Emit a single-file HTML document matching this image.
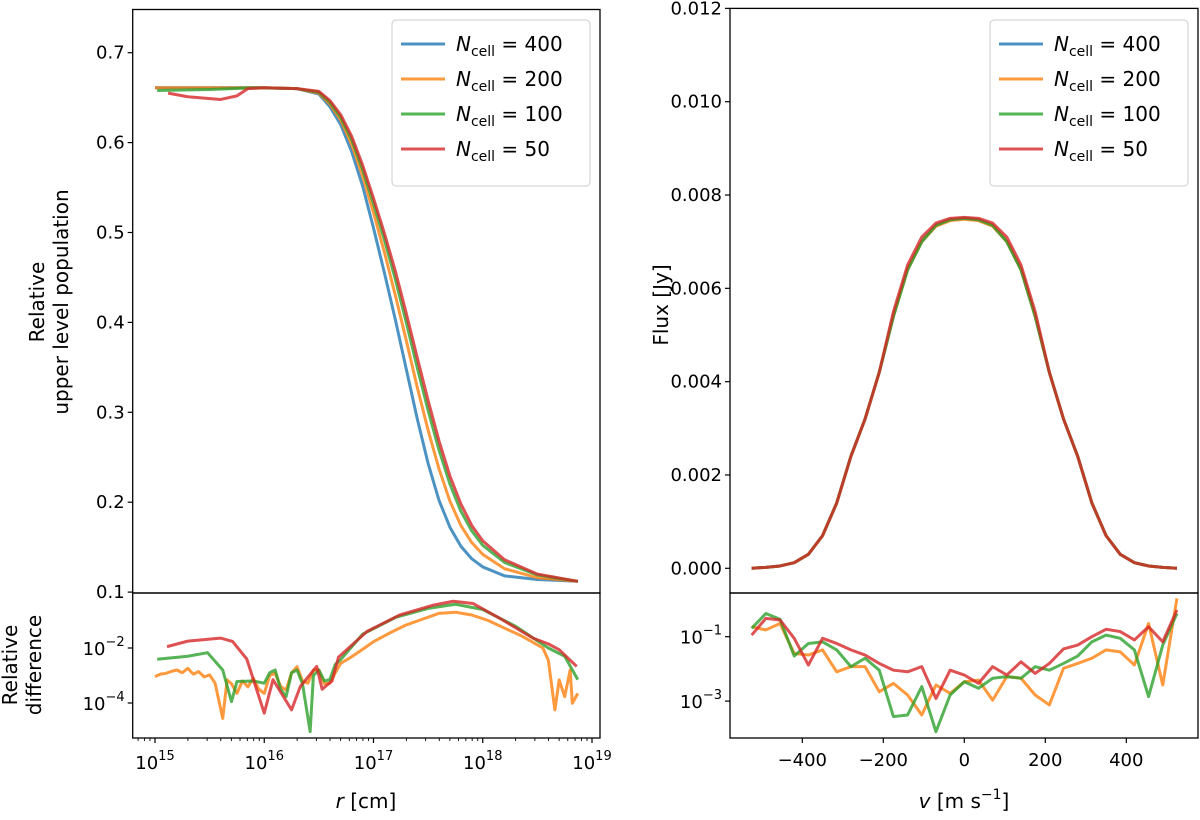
<!DOCTYPE html>
<html><head><meta charset="utf-8">
<style>
html,body{margin:0;padding:0;background:#fff;}
svg{display:block;font-family:"DejaVu Sans","Liberation Sans",sans-serif;}
</style></head>
<body>
<svg id="fig" width="1200" height="820" viewBox="0 0 1200 820" xmlns="http://www.w3.org/2000/svg">
</svg>
<script>
// ---------- DATA ----------
const seriesNames = ["400","200","100","50"];
const colors = ["#1f77b4","#ff7f0e","#2ca02c","#d62728"];

const popLogR400 = [15.0,15.5,16.0,16.3,16.5,16.6,16.7,16.8,16.9,17.0,17.1,17.2,17.3,17.4,17.5,17.6,17.7,17.8,17.9,18.0,18.2,18.5,18.87];
const pop400 = [0.661,0.661,0.661,0.660,0.654,0.640,0.620,0.590,0.552,0.505,0.455,0.403,0.348,0.293,0.243,0.202,0.172,0.151,0.137,0.128,0.118,0.114,0.112];
const popLogR200 = [15.0,15.5,16.0,16.3,16.5,16.6,16.7,16.8,16.9,17.0,17.1,17.2,17.3,17.4,17.5,17.6,17.7,17.8,17.9,18.0,18.2,18.5,18.87];
const pop200 = [0.661,0.661,0.661,0.660,0.655,0.643,0.625,0.598,0.563,0.522,0.478,0.430,0.380,0.328,0.280,0.237,0.201,0.174,0.155,0.142,0.126,0.116,0.112];
const popLogR100 = [15.02,15.5,15.9,16.3,16.5,16.6,16.7,16.8,16.9,17.0,17.1,17.2,17.3,17.4,17.5,17.6,17.7,17.8,17.9,18.0,18.2,18.5,18.87];
const pop100 = [0.658,0.659,0.661,0.660,0.656,0.645,0.628,0.603,0.570,0.532,0.492,0.448,0.400,0.350,0.302,0.258,0.220,0.190,0.168,0.152,0.133,0.119,0.112];
const popLogR50 = [15.12,15.3,15.6,15.75,15.85,16.0,16.3,16.5,16.6,16.7,16.8,16.9,17.0,17.1,17.2,17.3,17.4,17.5,17.6,17.7,17.8,17.9,18.0,18.2,18.5,18.87];
const pop50 = [0.655,0.651,0.648,0.652,0.660,0.661,0.660,0.657,0.647,0.631,0.607,0.575,0.538,0.499,0.457,0.410,0.361,0.313,0.268,0.229,0.198,0.174,0.157,0.136,0.120,0.112];

const diffLogR200 = [15.0,15.05,15.1,15.15,15.2,15.25,15.3,15.35,15.4,15.45,15.5,15.55,15.62,15.66,15.7,15.75,15.8,15.85,15.9,15.95,16.0,16.05,16.1,16.15,16.2,16.25,16.3,16.35,16.4,16.45,16.5,16.55,16.6,16.65,16.7,16.8,16.9,17.0,17.15,17.3,17.45,17.6,17.75,17.9,18.05,18.2,18.35,18.45,18.55,18.6,18.66,18.7,18.75,18.8,18.82,18.87];
const diff200 = [-3.04,-2.95,-2.92,-2.85,-2.80,-2.90,-2.74,-2.95,-2.86,-3.05,-2.98,-3.28,-4.56,-3.16,-3.30,-3.65,-3.20,-3.41,-3.10,-3.50,-3.65,-3.00,-2.92,-3.40,-3.53,-2.90,-2.68,-3.20,-3.28,-2.80,-2.80,-3.30,-3.28,-2.90,-2.56,-2.32,-2.05,-1.77,-1.45,-1.16,-0.95,-0.74,-0.70,-0.80,-1.00,-1.28,-1.55,-1.77,-2.00,-2.44,-4.25,-3.16,-3.77,-2.80,-4.01,-3.65];
const diffLogR100 = [15.02,15.3,15.48,15.62,15.7,15.75,15.9,16.0,16.05,16.1,16.15,16.2,16.25,16.3,16.35,16.42,16.45,16.5,16.55,16.6,16.65,16.7,16.9,17.2,17.5,17.75,18.0,18.3,18.6,18.75,18.87];
const diff100 = [-2.41,-2.30,-2.17,-2.80,-3.95,-3.22,-3.20,-3.28,-2.90,-2.80,-3.50,-3.77,-2.90,-2.80,-3.30,-5.04,-3.00,-2.80,-3.20,-3.15,-2.60,-2.42,-1.50,-0.89,-0.56,-0.41,-0.60,-1.21,-2.00,-2.30,-3.15];
const diffLogR50 = [15.11,15.3,15.6,15.71,15.84,16.0,16.08,16.25,16.33,16.48,16.53,16.62,16.68,16.94,17.24,17.55,17.73,17.91,18.16,18.46,18.6,18.7,18.86];
const diff50 = [-1.95,-1.75,-1.64,-1.76,-2.40,-4.37,-3.15,-4.25,-3.40,-2.67,-3.50,-3.20,-2.33,-1.40,-0.80,-0.44,-0.30,-0.38,-0.93,-1.64,-1.85,-2.06,-2.67];

const velocity = [-525,-490,-455,-420,-385,-350,-315,-280,-245,-210,-175,-140,-105,-70,-35,0,35,70,105,140,175,210,245,280,315,350,385,420,455,490,525];
const flux400 = [0,0.00002,0.00005,0.00012,0.0003,0.0007,0.0014,0.0024,0.0032,0.0042,0.0054,0.0064,0.0070,0.00735,0.00747,0.0075,0.00747,0.00735,0.0070,0.0064,0.0054,0.0042,0.0032,0.0024,0.0014,0.0007,0.0003,0.00012,0.00005,0.00002,0];
const flux200 = [0,0.00002,0.00005,0.00012,0.0003,0.0007,0.0014,0.0024,0.0032,0.0042,0.0054,0.0064,0.0070,0.00733,0.00745,0.00748,0.00745,0.00733,0.0070,0.0064,0.0054,0.0042,0.0032,0.0024,0.0014,0.0007,0.0003,0.00012,0.00005,0.00002,0];
const flux100 = [0,0.00002,0.00005,0.00012,0.0003,0.0007,0.0014,0.0024,0.0032,0.0042,0.0054,0.0064,0.0070,0.00735,0.00747,0.0075,0.00747,0.00735,0.0070,0.0064,0.0054,0.0042,0.0032,0.0024,0.0014,0.0007,0.0003,0.00012,0.00005,0.00002,0];
const flux50 = [0,0.00002,0.00005,0.00012,0.0003,0.0007,0.0014,0.0024,0.0032,0.0042,0.0055,0.0065,0.0071,0.0074,0.0075,0.00752,0.0075,0.0074,0.0071,0.0065,0.0055,0.0042,0.0032,0.0024,0.0014,0.0007,0.0003,0.00012,0.00005,0.00002,0];
const vdiff200 = [-0.69,-0.79,-0.59,-1.52,-1.57,-1.41,-2.09,-1.93,-1.93,-2.71,-2.45,-2.81,-3.43,-2.50,-2.76,-2.40,-2.35,-2.97,-2.24,-2.29,-2.81,-3.12,-1.98,-1.83,-1.67,-1.41,-1.47,-1.88,-0.59,-2.50,0.19];
const vdiff100 = [-0.74,-0.28,-0.46,-1.60,-1.21,-1.16,-1.41,-1.93,-1.67,-2.04,-3.48,-3.43,-2.55,-3.95,-2.81,-2.40,-2.60,-2.29,-2.24,-2.29,-1.93,-2.04,-1.83,-1.60,-1.16,-0.95,-1.05,-1.41,-2.86,-1.26,-0.28];
const vdiff50 = [-0.95,-0.43,-0.48,-1.05,-1.88,-1.05,-1.21,-1.41,-1.57,-1.83,-2.04,-2.09,-1.93,-2.92,-2.04,-2.19,-2.45,-1.93,-2.19,-1.78,-2.14,-1.83,-1.38,-1.26,-1.00,-0.77,-0.84,-1.10,-0.69,-1.16,-0.17];

const popTicks = [0.1,0.2,0.3,0.4,0.5,0.6,0.7];
const fluxTicks = [0,0.002,0.004,0.006,0.008,0.010,0.012];
const rDecades = [15,16,17,18,19];
const vTicks = [-400,-200,0,200,400];

// ---------- AXES ----------
const NS = "http://www.w3.org/2000/svg";
const svg = document.getElementById("fig");
function el(tag, attrs, parent){ const e=document.createElementNS(NS,tag); for(const k in attrs) e.setAttribute(k,attrs[k]); (parent||svg).appendChild(e); return e; }

const L = {x0:132.7, x1:600, top:9.5, mid:593, bot:738};
const R = {x0:730, x1:1198, top:8.4, mid:593, bot:738};
const xR = lr => 155 + (lr-15)*109.25;
const yPop = v => 52.7 + (0.7-v)*899;
const yLD = lg => 593 - lg*27.5;
const xV = v => 964.3 + v*0.405;
const yFlux = f => 568.3 - f*46660;
const yRD = lg => 636.7 - (lg+1)*32.2;

function defClip(id, x, y, w, h){
  let defs = svg.querySelector("defs") || el("defs",{});
  const cp = el("clipPath",{id:id},defs);
  el("rect",{x:x,y:y,width:w,height:h},cp);
}
defClip("cLT",L.x0,L.top,L.x1-L.x0,L.mid-L.top);
defClip("cLB",L.x0,L.mid,L.x1-L.x0,L.bot-L.mid);
defClip("cRT",R.x0,R.top,R.x1-R.x0,R.mid-R.top);
defClip("cRB",R.x0,R.mid,R.x1-R.x0,R.bot-R.mid);

function line(xs, ys, fx, fy, color, clip, name){
  const d = xs.map((x,i)=>(i?"L":"M")+fx(x).toFixed(2)+","+fy(ys[i]).toFixed(2)).join("");
  const p = el("path",{d:d,fill:"none",stroke:color,"stroke-width":3,"stroke-opacity":0.8,"stroke-linejoin":"round","clip-path":"url(#"+clip+")"});
  
  
}

line(popLogR400,pop400,xR,yPop,colors[0],"cLT","population-line-400");
line(popLogR200,pop200,xR,yPop,colors[1],"cLT","population-line-200");
line(popLogR100,pop100,xR,yPop,colors[2],"cLT","population-line-100");
line(popLogR50,pop50,xR,yPop,colors[3],"cLT","population-line-50");
line(diffLogR200,diff200,xR,yLD,colors[1],"cLB","population-difference-200");
line(diffLogR100,diff100,xR,yLD,colors[2],"cLB","population-difference-100");
line(diffLogR50,diff50,xR,yLD,colors[3],"cLB","population-difference-50");
line(velocity,flux400,xV,yFlux,colors[0],"cRT","flux-line-400");
line(velocity,flux200,xV,yFlux,colors[1],"cRT","flux-line-200");
line(velocity,flux100,xV,yFlux,colors[2],"cRT","flux-line-100");
line(velocity,flux50,xV,yFlux,colors[3],"cRT","flux-line-50");
line(velocity,vdiff200,xV,yRD,colors[1],"cRB","flux-difference-200");
line(velocity,vdiff100,xV,yRD,colors[2],"cRB","flux-difference-100");
line(velocity,vdiff50,xV,yRD,colors[3],"cRB","flux-difference-50");

for (const A of [L,R]){
  const f1 = el("rect",{x:A.x0,y:A.top,width:A.x1-A.x0,height:A.mid-A.top,fill:"none",stroke:"#000","stroke-width":1.3});
  
  
  const f2 = el("rect",{x:A.x0,y:A.mid,width:A.x1-A.x0,height:A.bot-A.mid,fill:"none",stroke:"#000","stroke-width":1.3});
  
  
}

const TS = 18;
function text(x,y,str,anchor,size,name,extra){
  const t = el("text",Object.assign({x:x,y:y,"text-anchor":anchor,"font-size":size,fill:"#000"},extra||{}));
  t.textContent = str;
  
  
  return t;
}
function powText(x,y,base,exp,name,anchor){
  const t = el("text",{x:x,y:y,"text-anchor":anchor||"end","font-size":TS,fill:"#000"});
  
  
  const a = el("tspan",{},t); a.textContent = base;
  const b = el("tspan",{dy:-9,"font-size":13},t); b.textContent = exp;
  return t;
}

popTicks.forEach(v=>{
  const y=yPop(v);
  el("line",{x1:L.x0-5,x2:L.x0,y1:y,y2:y,stroke:"#000","stroke-width":1.2});
  text(L.x0-8,y+6,v.toFixed(1),"end",TS,"population-tick-label");
});
[-2,-4].forEach(lg=>{
  const y=yLD(lg);
  el("line",{x1:L.x0-5,x2:L.x0,y1:y,y2:y,stroke:"#000","stroke-width":1.2});
  powText(L.x0-8,y+7,"10","\u2212"+(-lg),"difference-tick-label");
});
rDecades.forEach(d=>{
  const x=xR(d);
  el("line",{x1:x,x2:x,y1:L.bot,y2:L.bot+5,stroke:"#000","stroke-width":1.2});
  powText(x,L.bot+31,"10",String(d),"r-tick-label","middle");
  if(d<19){ for(let m=2;m<=9;m++){ const xm=xR(d+Math.log10(m)); if(xm<L.x1) el("line",{x1:xm,x2:xm,y1:L.bot,y2:L.bot+3,stroke:"#000","stroke-width":0.9}); } }
});
for(let m=7;m<=9;m++){ const xm=xR(14+Math.log10(m)); if(xm>L.x0) el("line",{x1:xm,x2:xm,y1:L.bot,y2:L.bot+3,stroke:"#000","stroke-width":0.9}); }

fluxTicks.forEach(v=>{
  const y=yFlux(v);
  el("line",{x1:R.x0-5,x2:R.x0,y1:y,y2:y,stroke:"#000","stroke-width":1.2});
  text(R.x0-8,y+6,v.toFixed(3),"end",TS,"flux-tick-label");
});
[-1,-3].forEach(lg=>{
  const y=yRD(lg);
  el("line",{x1:R.x0-5,x2:R.x0,y1:y,y2:y,stroke:"#000","stroke-width":1.2});
  powText(R.x0-8,y+7,"10","\u2212"+(-lg),"flux-difference-tick-label");
});
vTicks.forEach(v=>{
  const x=xV(v);
  el("line",{x1:x,x2:x,y1:R.bot,y2:R.bot+5,stroke:"#000","stroke-width":1.2});
  text(x,R.bot+28,(v<0?"\u2212"+(-v):String(v)),"middle",TS,"velocity-tick-label");
});

text(0,0,"Relative","middle",20,"population-axis-title",{transform:"translate(44,302) rotate(-90)"});
text(0,0,"upper level population","middle",20,"population-axis-title-line2",{transform:"translate(68,302) rotate(-90)"});
text(0,0,"Relative","middle",20,"difference-axis-title",{transform:"translate(17,665) rotate(-90)"});
text(0,0,"difference","middle",20,"difference-axis-title-line2",{transform:"translate(41,665) rotate(-90)"});
text(0,0,"Flux [Jy]","middle",20,"flux-axis-title",{transform:"translate(668,305) rotate(-90)"});
(function(){
  const t=el("text",{x:366,y:808,"text-anchor":"middle","font-size":20});
   
  const a=el("tspan",{"font-style":"italic"},t); a.textContent="r";
  const b=el("tspan",{},t); b.textContent=" [cm]";
  const u=el("text",{x:964,y:808,"text-anchor":"middle","font-size":20});
   
  const c=el("tspan",{"font-style":"italic"},u); c.textContent="v";
  const d=el("tspan",{},u); d.textContent=" [m s";
  const e=el("tspan",{dy:-9,"font-size":14},u); e.textContent="\u22121";
  const f=el("tspan",{dy:9},u); f.textContent="]";
})();

function legend(x0,y0,name){
  const g=el("g",{});
  
  
  el("rect",{x:x0,y:y0,width:198,height:166,rx:4,fill:"#fff","fill-opacity":0.8,stroke:"#ccc","stroke-width":1},g);
  seriesNames.forEach((n,i)=>{
    const y=y0+24+i*35;
    const ln=el("line",{x1:x0+9,x2:x0+53,y1:y,y2:y,stroke:colors[i],"stroke-width":3,"stroke-opacity":0.8},g);
    
    
    const t=el("text",{x:x0+64,y:y+7,"font-size":20},g);
    
    
    const a=el("tspan",{"font-style":"italic"},t); a.textContent="N";
    const b=el("tspan",{dy:5,"font-size":14},t); b.textContent="cell";
    const c=el("tspan",{dy:-5},t); c.textContent=" = "+n;
  });
}
legend(392,20,"population-legend");
legend(990,20,"flux-legend");
</script>
</body></html>
